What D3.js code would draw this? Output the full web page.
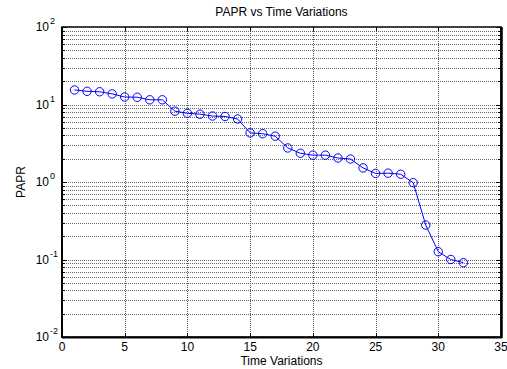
<!DOCTYPE html>
<html><head><meta charset="utf-8">
<script src="https://cdn.jsdelivr.net/npm/d3@7"></script>
<style>body{margin:0;background:#fff}svg{display:block}text{font-family:"Liberation Sans",Arial,sans-serif}</style>
</head><body>
<script>
const timeVar = [1,2,3,4,5,6,7,8,9,10,11,12,13,14,15,16,17,18,19,20,21,22,23,24,25,26,27,28,29,30,31,32];
const papr = [15.4,14.8,14.6,13.7,12.5,12.4,11.5,11.5,8.2,7.7,7.5,7.1,7.0,6.5,4.3,4.2,3.9,2.75,2.35,2.22,2.22,2.04,1.98,1.52,1.29,1.3,1.26,0.98,0.278,0.126,0.100,0.091];
const xTicks = [0,5,10,15,20,25,30,35];
const yTickExps = [-2,-1,0,1,2];

const W=507,H=369;
const m={l:62,r:501,t:27,b:337};
const svg=d3.select("body").append("svg").attr("width",W).attr("height",H);
const x=d3.scaleLinear().domain([0,35]).range([m.l,m.r]);
const y=d3.scaleLog().domain([0.01,100]).range([m.b,m.t]);

// grid
const g=svg.append("g");
xTicks.slice(1,-1).forEach(v=>{
  g.append("line").attr("x1",Math.round(x(v))+0.5).attr("x2",Math.round(x(v))+0.5).attr("y1",m.t).attr("y2",m.b)
   .attr("stroke","#555").attr("stroke-width",1).attr("stroke-dasharray","1,1");
});
const yGrid=[];
for(let e=-2;e<2;e++){for(let k=1;k<10;k++){yGrid.push(k*Math.pow(10,e));}}
yGrid.push(100);
yGrid.forEach(v=>{
  const yy=Math.round(y(v))+0.5;
  if(v===0.01||v===100)return;
  g.append("line").attr("x1",m.l).attr("x2",m.r).attr("y1",yy).attr("y2",yy)
   .attr("stroke","#666").attr("stroke-width",1).attr("stroke-dasharray","1,1");
});

// ticks (inward)
const t=svg.append("g").attr("stroke","#000").attr("stroke-width",1);
xTicks.forEach(v=>{
  const xx=Math.round(x(v))+0.5;
  t.append("line").attr("x1",xx).attr("x2",xx).attr("y1",m.b).attr("y2",m.b-4);
  t.append("line").attr("x1",xx).attr("x2",xx).attr("y1",m.t).attr("y2",m.t+4);
});
yGrid.forEach(v=>{
  const yy=Math.round(y(v))+0.5;
  const major=yTickExps.some(e=>Math.abs(Math.pow(10,e)-v)<1e-9);
  const len=major?5:3;
  t.append("line").attr("x1",m.l).attr("x2",m.l+len).attr("y1",yy).attr("y2",yy);
  t.append("line").attr("x1",m.r).attr("x2",m.r-len).attr("y1",yy).attr("y2",yy);
});

// line + markers
const line=d3.line().x((d,i)=>x(timeVar[i])).y(d=>y(d));
svg.append("path").datum(papr).attr("d",line).attr("fill","none").attr("stroke","#0000ff").attr("stroke-width",1);
svg.selectAll("circle.pt").data(papr).enter().append("circle").attr("class","pt")
  .attr("cx",(d,i)=>x(timeVar[i])).attr("cy",d=>y(d)).attr("r",4.2)
  .attr("fill","none").attr("stroke","#0000ff").attr("stroke-width",1);

// box
svg.append("rect").attr("x",m.l).attr("y",m.t).attr("width",m.r-m.l).attr("height",m.b-m.t)
  .attr("fill","none").attr("stroke","#000").attr("stroke-width",1.5);
svg.append("line").attr("x1",m.l).attr("x2",m.r+1).attr("y1",m.b+0.5).attr("y2",m.b+0.5).attr("stroke","#000").attr("stroke-width",2);
svg.append("line").attr("x1",m.r+0.5).attr("x2",m.r+0.5).attr("y1",m.t).attr("y2",m.b+1).attr("stroke","#000").attr("stroke-width",2.5);
svg.append("line").attr("x1",m.l).attr("x2",m.l).attr("y1",m.t).attr("y2",m.b+1).attr("stroke","#000").attr("stroke-width",2);

// x tick labels
svg.selectAll("text.xt").data(xTicks).enter().append("text").attr("class","xt")
  .attr("x",d=>x(d)).attr("y",m.b+14).attr("text-anchor","middle").attr("font-size",12).text(d=>d);

// y tick labels
yTickExps.forEach(e=>{
  svg.append("text").attr("x",49).attr("y",y(Math.pow(10,e))+4).attr("text-anchor","end").attr("font-size",12).text("10");
  svg.append("text").attr("x",50).attr("y",y(Math.pow(10,e))-3).attr("font-size",9).text(e);
});

svg.append("text").attr("x",(m.l+m.r)/2).attr("y",16).attr("text-anchor","middle").attr("font-size",12).text("PAPR vs Time Variations");
svg.append("text").attr("x",(m.l+m.r)/2).attr("y",365).attr("text-anchor","middle").attr("font-size",12).text("Time Variations");
svg.append("text").attr("transform",`translate(25,${(m.t+m.b)/2}) rotate(-90)`).attr("text-anchor","middle").attr("font-size",12).text("PAPR");
</script>
</body></html>
